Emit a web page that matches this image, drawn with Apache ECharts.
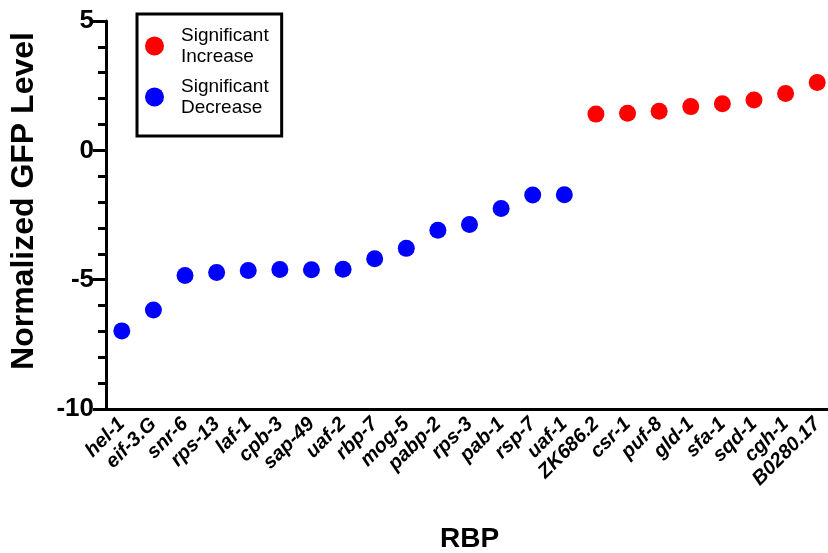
<!DOCTYPE html>
<html>
<head>
<meta charset="utf-8">
<script src="https://cdn.jsdelivr.net/npm/echarts@6/dist/echarts.min.js"></script>
<style>
  html, body { margin: 0; padding: 0; background: #fff; }
  #main { width: 828px; height: 553px; }
</style>
</head>
<body>
<div id="main"></div>
<script>
// genes along the x axis
var rbpNames = ["hel-1", "eif-3.G", "snr-6", "rps-13", "laf-1", "cpb-3", "sap-49", "uaf-2",
  "rbp-7", "mog-5", "pabp-2", "rps-3", "pab-1", "rsp-7", "uaf-1",
  "ZK686.2", "csr-1", "puf-8", "gld-1", "sfa-1", "sqd-1", "cgh-1", "B0280.17"];
var decreaseNames = rbpNames.slice(0, 15);
var decreaseValues = [-6.98, -6.17, -4.84, -4.72, -4.65, -4.61, -4.62, -4.60,
  -4.19, -3.79, -3.09, -2.87, -2.25, -1.73, -1.72];
var increaseNames = rbpNames.slice(15);
var increaseValues = [1.40, 1.43, 1.51, 1.69, 1.80, 1.95, 2.20, 2.62];
var yTicks = [-10, -5, 0, 5];

var font = "Liberation Sans";
var chart = echarts.init(document.getElementById("main"));

function pairs(names, vals) {
  return names.map(function (n, i) { return [n, vals[i]]; });
}

chart.setOption({
  animation: false,
  textStyle: { fontFamily: font },
  grid: { left: 106, top: 21, width: 727, height: 388, outerBoundsMode: "none", containLabel: false },
  legend: {
    orient: "vertical",
    left: 137,
    top: 14,
    padding: [11, 13, 18, 8],
    itemGap: 9,
    itemWidth: 19,
    itemHeight: 19,
    borderColor: "#000",
    borderWidth: 3,
    borderRadius: 0,
    data: [
      { name: "Significant\nIncrease", icon: "circle" },
      { name: "Significant\nDecrease", icon: "circle" }
    ],
    textStyle: { fontFamily: font, fontSize: 19, lineHeight: 21, color: "#000", padding: [0, 0, 0, 12] }
  },
  xAxis: {
    type: "category",
    data: rbpNames,
    boundaryGap: true,
    name: "RBP",
    nameLocation: "middle",
    nameGap: 116,
    nameTextStyle: { fontFamily: font, fontSize: 28, fontWeight: "bold", color: "#000" },
    axisLine: { onZero: false, lineStyle: { color: "#000", width: 3 } },
    axisTick: { alignWithLabel: true, length: 12, lineStyle: { color: "#000", width: 3 } },
    axisLabel: {
      interval: 0, rotate: 45, margin: 12,
      fontFamily: font, fontSize: 20, fontWeight: "bold", fontStyle: "italic", color: "#000"
    }
  },
  yAxis: {
    type: "value",
    min: -10,
    max: 5,
    interval: 5,
    name: "Normalized GFP Level",
    nameLocation: "middle",
    nameGap: 66,
    nameTextStyle: {
      fontFamily: font, fontSize: 32, fontWeight: "bold", color: "#000",
      padding: [0, 0, 0, 28]
    },
    splitLine: { show: false },
    axisLine: { show: true, lineStyle: { color: "#000", width: 3 } },
    axisTick: { show: true, length: 13, lineStyle: { color: "#000", width: 3 } },
    minorTick: { show: true, splitNumber: 5, length: 8, lineStyle: { color: "#000", width: 3 } },
    axisLabel: {
      margin: 12, fontFamily: font, fontSize: 26, fontWeight: "bold", color: "#000",
      formatter: function (v) { return yTicks.indexOf(v) >= 0 ? String(v) : ""; }
    }
  },
  series: [
    {
      name: "Significant\nIncrease",
      type: "scatter",
      symbolSize: 17,
      itemStyle: { color: "#ff0000", opacity: 1 },
      data: pairs(increaseNames, increaseValues)
    },
    {
      name: "Significant\nDecrease",
      type: "scatter",
      symbolSize: 17,
      itemStyle: { color: "#0000ff", opacity: 1 },
      data: pairs(decreaseNames, decreaseValues)
    }
  ]
});
</script>
</body>
</html>
